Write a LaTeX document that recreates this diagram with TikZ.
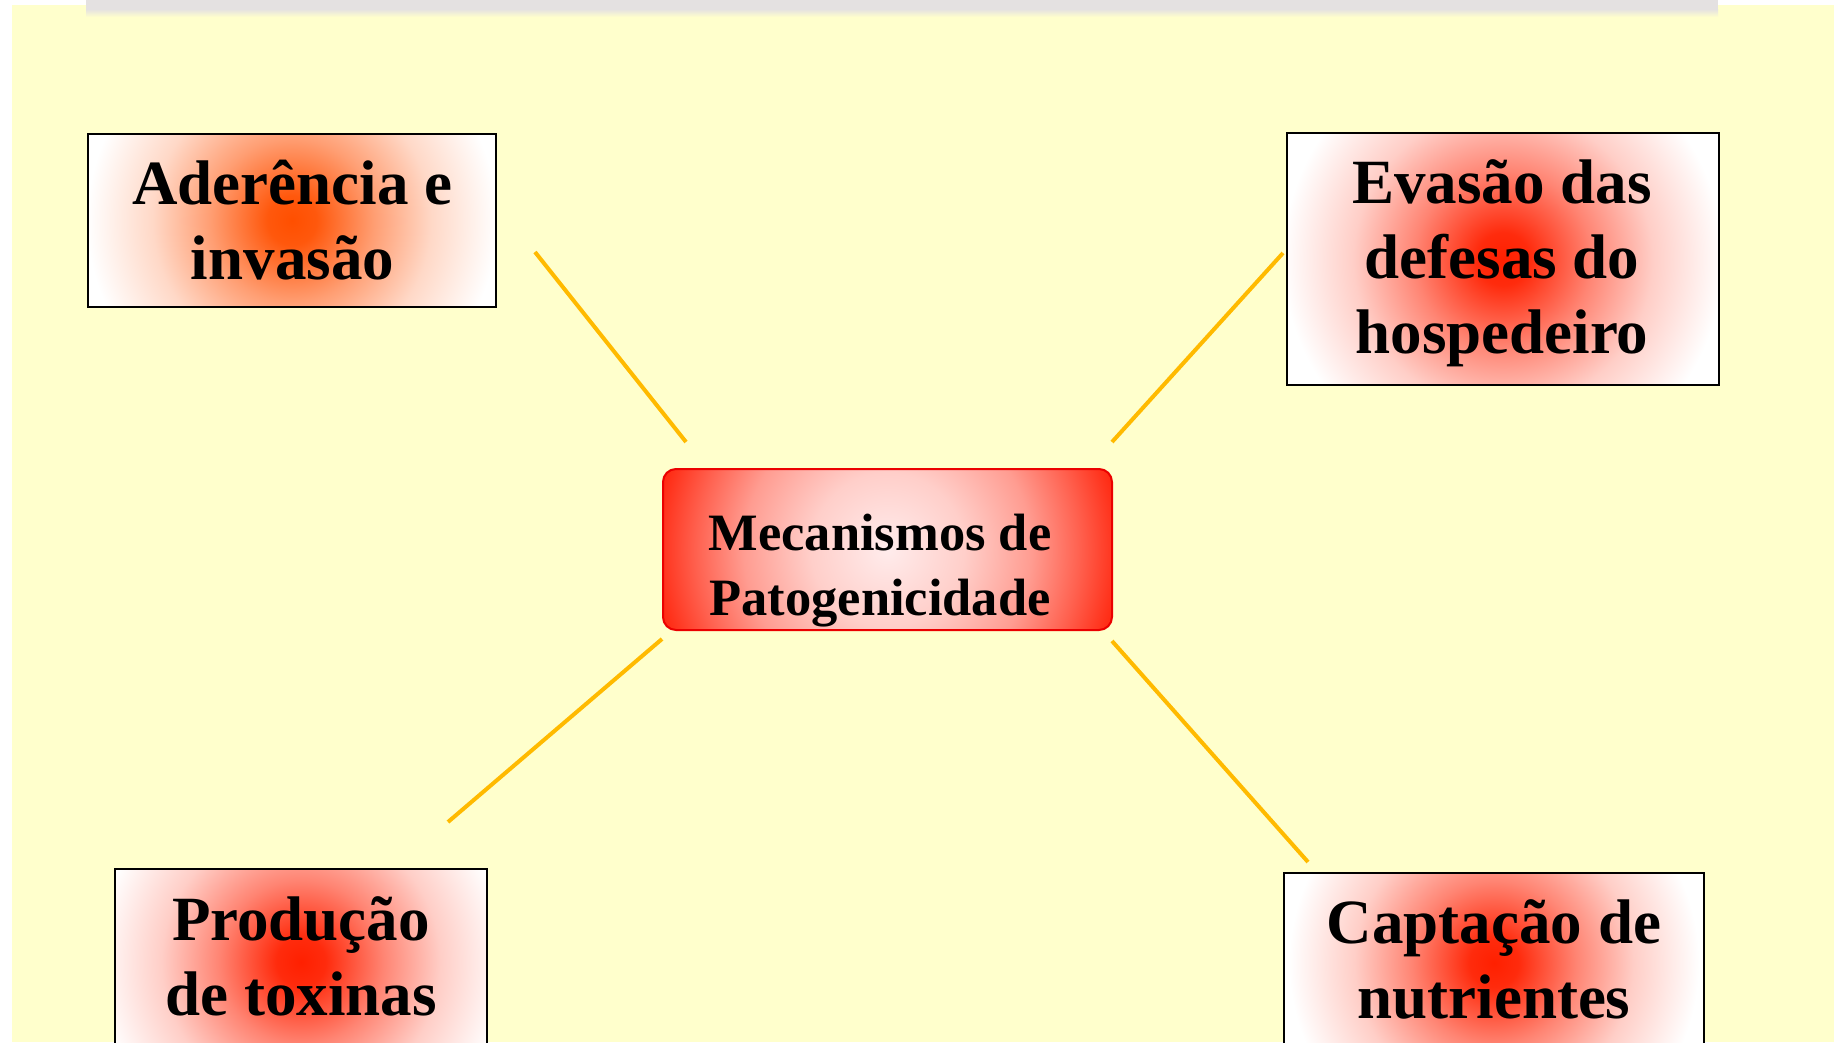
\documentclass[tikz,border=0pt]{standalone}
\usepackage{fontspec}
\setmainfont{Liberation Serif}
\definecolor{bgyellow}{RGB}{255,255,204}
\definecolor{shadowgray}{RGB}{228,225,225}
\definecolor{linegold}{RGB}{255,186,0}
\definecolor{borderR}{RGB}{235,0,0}
\pgfdeclareradialshading{glowred}{\pgfpoint{0bp}{0bp}}{rgb(0bp)=(1,0.125,0); rgb(3bp)=(1,0.169,0.05); rgb(10bp)=(1,0.519,0.45); rgb(17bp)=(1,0.808,0.78); rgb(25bp)=(1,1,1); rgb(50bp)=(1,1,1)}
\pgfdeclareradialshading{gloworange}{\pgfpoint{0bp}{0bp}}{rgb(0bp)=(1,0.31,0); rgb(3bp)=(1,0.345,0.05); rgb(10bp)=(1,0.62,0.45); rgb(17bp)=(1,0.848,0.78); rgb(25bp)=(1,1,1); rgb(50bp)=(1,1,1)}
\pgfdeclareradialshading{centerglow}{\pgfpoint{0bp}{0bp}}{rgb(0bp)=(1,0.925,0.925); rgb(8bp)=(1,0.81,0.79); rgb(15bp)=(1,0.612,0.568); rgb(20bp)=(1,0.379,0.309); rgb(23.5bp)=(1,0.206,0.117); rgb(25bp)=(1,0.137,0.04); rgb(50bp)=(1,0.137,0.04)}
\newcommand\mlines[1]{\vtop{\halign{\hfil##\hfil\cr#1\crcr}}}
% #1 node name, #2 shading, #3 radius, #4 corner rounding
\newcommand\glowinside[4]{%
  \begin{scope}
    \clip[rounded corners=#4] (#1.north west) rectangle (#1.south east);
    \shade[shading=#2] (#1.center) circle (#3);
  \end{scope}}
\begin{document}
\begin{tikzpicture}[x=1pt,y=-1pt,
  outerbox/.style={fill=white, inner sep=0pt, outer sep=0pt},
  outerframe/.style={draw=black, line width=2pt},
  centerbox/.style={fill=white, rounded corners=13pt, inner sep=0pt, outer sep=0pt},
  centerframe/.style={draw=borderR, line width=2pt, rounded corners=13pt},
  bigtxt/.style={font=\bfseries\fontsize{63}{75}\selectfont, inner sep=0pt, anchor=base},
  smalltxt/.style={font=\bfseries\fontsize{52.5}{65}\selectfont, inner sep=0pt, anchor=base},
  conn/.style={draw=linegold, line width=4pt}]
\useasboundingbox (0,0) rectangle (1834,1042);
\fill[white] (0,0) rectangle (1834,1042);
\fill[bgyellow] (12,5) rectangle (1834,1042);
\fill[shadowgray] (86,0) rectangle (1718,9);
\shade[top color=shadowgray, bottom color=bgyellow] (86,9) rectangle (1718,17);

\node[outerbox, minimum width=408pt, minimum height=173pt] (aBox) at (292,220.5) {};
\node[outerbox, minimum width=432pt, minimum height=252pt] (eBox) at (1503,259) {};
\node[outerbox, minimum width=372pt, minimum height=186pt] (pBox) at (301,962) {};
\node[outerbox, minimum width=420pt, minimum height=180pt] (cBox) at (1494,963) {};
\node[centerbox, minimum width=449pt, minimum height=161pt] (mBox) at (887.5,549.5) {};

\glowinside{aBox}{gloworange}{205pt}{0pt}
\glowinside{eBox}{glowred}{220pt}{0pt}
\glowinside{pBox}{glowred}{205pt}{0pt}
\glowinside{cBox}{glowred}{205pt}{0pt}
\glowinside{mBox}{centerglow}{240pt}{13pt}

\draw[outerframe] (aBox.north west) rectangle (aBox.south east);
\draw[outerframe] (eBox.north west) rectangle (eBox.south east);
\draw[outerframe] (pBox.north west) rectangle (pBox.south east);
\draw[outerframe] (cBox.north west) rectangle (cBox.south east);
\draw[centerframe] (mBox.north west) rectangle (mBox.south east);

\node[bigtxt] (aTxt) at (292.5,204) {\mlines{Aderência e\cr invasão}};
\node[bigtxt] (eTxt) at (1502,203) {\mlines{Evasão das\cr defesas do\cr hospedeiro}};
\node[bigtxt] (pTxt) at (301,940) {\mlines{Produção\cr de toxinas}};
\node[bigtxt] (cTxt) at (1494,943) {\mlines{Captação de\cr nutrientes}};
\node[smalltxt] (mTxt) at (880,550) {\mlines{Mecanismos de\cr Patogenicidade}};

\draw[conn] ([shift={(39pt,55pt)}]aBox.south east) -- ([shift={(23pt,27pt)}]mBox.north west);
\draw[conn] ([shift={(-4pt,6pt)}]eBox.west) -- ([shift={(0pt,27pt)}]mBox.north east);
\draw[conn] ([shift={(-1pt,-9pt)}]mBox.south west) -- ([shift={(-39pt,47pt)}]pBox.north east);
\draw[conn] ([shift={(0pt,-11pt)}]mBox.south east) -- ([shift={(24pt,11pt)}]cBox.north west);
\end{tikzpicture}
\end{document}
